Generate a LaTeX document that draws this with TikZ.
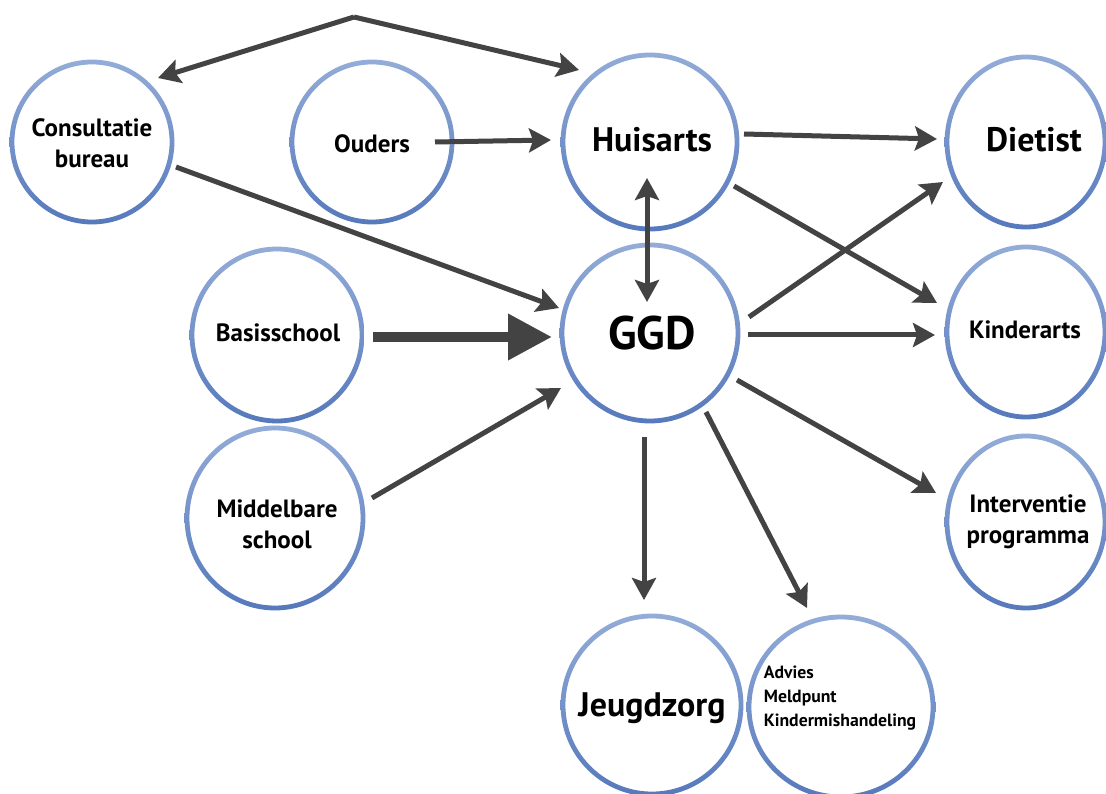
\documentclass[tikz,border=0pt]{standalone}
\usepackage{fontspec}
\setmainfont{PT Sans}
\usetikzlibrary{arrows.meta,calc}
\definecolor{ringtop}{HTML}{93ACD8}
\definecolor{ringbot}{HTML}{5679BC}
\definecolor{arrc}{HTML}{434343}
\newcommand\ringat[3]{%
  \shade[top color=ringtop,bottom color=ringbot,even odd rule]
    (#1) circle[x radius=#2pt+2.4pt,y radius=#3pt+2.4pt]
    (#1) circle[x radius=#2pt-2.4pt,y radius=#3pt-2.4pt];}
\begin{document}
\begin{tikzpicture}[x=1pt,y=-1pt,
  nd/.style={circle,inner sep=0pt,minimum size=150pt,align=center,font=\bfseries\fontsize{25}{31}\selectfont},
  big/.style={font=\bfseries\fontsize{34}{40}\selectfont},
  arr/.style={draw=arrc,line width=5pt,-{Stealth[length=22pt,width=24pt,inset=4pt]}},
  darr/.style={draw=arrc,line width=5pt,{Stealth[length=22pt,width=24pt,inset=4pt]}-{Stealth[length=22pt,width=24pt,inset=4pt]}}]
\useasboundingbox (0,0) rectangle (1106,794);
\fill[white] (0,0) rectangle (1106,794);

% nodes
\node[nd] (cons) at (92,143) {Consultatie\\bureau};
\node[nd] (oud) at (372,144) {Ouders};
\node[nd,big] (huis) at (652,140) {Huisarts};
\node[nd,big] (diet) at (1034,140) {Dietist};
\node[nd,font=\bfseries\fontsize{47}{52}\selectfont] (ggd) at (652,333) {GGD};
\node[nd] (kind) at (1025,330) {Kinderarts};
\node[nd] (intv) at (1028,522) {Interventie\\programma};
\node[nd] (basis) at (278,333) {Basisschool};
\node[nd] (mid) at (277,524) {Middelbare\\school};
\node[nd,big] (jeugd) at (652,708) {Jeugdzorg};
\node[nd,align=left,font=\bfseries\fontsize{17.7}{24}\selectfont] (amk) at (840,698) {Advies\\Meldpunt\\Kindermishandeling};
\coordinate (top) at (354,17);

% rings
\ringat{92,142}{80}{80}
\ringat{372,142}{80}{80}
\ringat{650,142}{87}{87}
\ringat{1026,142}{79}{85}
\ringat{650,333}{88}{88}
\ringat{1026,332}{79}{85}
\ringat{1026,522}{79}{86}
\ringat{277,335}{85}{86}
\ringat{275,518}{88}{90}
\ringat{652,705}{89}{89}
\ringat{841,707}{92}{90}

% connectors
\draw[arr] (top) -- ($(cons)+(66,-65)$);
\draw[arr] (top) -- ($(huis)+(-73,-70)$);
\draw[arr] ($(oud)+(63,-2)$) -- ($(huis)+(-101,0)$);
\draw[arr] ($(huis)+(92,-6)$) -- ($(diet)+(-97,-1)$);
\draw[darr] ($(huis)+(-5,38)$) -- ($(ggd)+(-5,-31)$);
\draw[arr] ($(huis)+(82,46)$) -- ($(kind)+(-88,-27)$);
\draw[arr] ($(ggd)+(97,-16)$) -- ($(diet)+(-91,42)$);
\draw[arr] ($(ggd)+(96,2)$) -- ($(kind)+(-90,5)$);
\draw[arr] ($(ggd)+(85,47)$) -- ($(intv)+(-92,-29)$);
\draw[arr] ($(ggd)+(-8,104)$) -- ($(jeugd)+(-8,-108)$);
\draw[arr] ($(ggd)+(54,79)$) -- ($(amk)+(-33,-90)$);
\draw[arr] ($(cons)+(84,24)$) -- ($(ggd)+(-93,-25)$);
\draw[arr,line width=10pt,-{Triangle[length=44pt,width=44pt]}] ($(basis)+(95,4)$) -- ($(ggd)+(-100,4)$);
\draw[arr] ($(mid)+(95,-26)$) -- ($(ggd)+(-91,55)$);
\end{tikzpicture}
\end{document}
